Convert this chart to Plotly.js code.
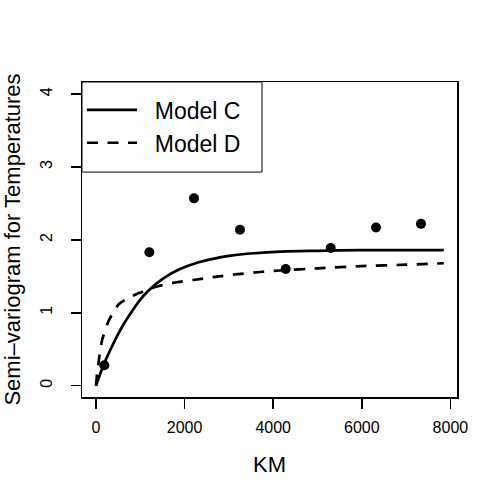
<!DOCTYPE html>
<html>
<head>
<meta charset="utf-8">
<script src="https://cdn.plot.ly/plotly-3.0.1.min.js"></script>
<style>html,body{margin:0;padding:0;background:#fff;}#chart{width:500px;height:500px;}</style>
</head>
<body>
<div id="chart"></div>
<script>
// Empirical semi-variogram points
var distKm = [188, 1204, 2212, 3250, 4282, 5298, 6321, 7336];
var semiVar = [0.28, 1.83, 2.57, 2.14, 1.60, 1.89, 2.17, 2.22];

// Model C (solid)
var modelCx = [0, 100, 203, 330, 467, 610, 767, 960, 1174, 1512, 1896, 2300, 2641, 3000, 3409, 4153, 5000, 6000, 7000, 7850];
var modelCy = [0, 0.17, 0.33, 0.50, 0.67, 0.83, 0.98, 1.15, 1.30, 1.47, 1.60, 1.69, 1.74, 1.78, 1.81, 1.84, 1.85, 1.86, 1.86, 1.86];

// Model D (dashed)
var modelDx = [0, 25, 60, 135, 293, 519, 750, 970, 1377, 1738, 2200, 2641, 3200, 3702, 4153, 5000, 6000, 7000, 7850];
var modelDy = [0, 0.16, 0.33, 0.62, 0.90, 1.12, 1.21, 1.27, 1.36, 1.41, 1.45, 1.49, 1.53, 1.56, 1.58, 1.61, 1.64, 1.66, 1.68];

var legendNames = ["Model C", "Model D"];
var xTicks = [0, 2000, 4000, 6000, 8000];
var yTicks = [0, 1, 2, 3, 4];

var traces = [
  {x: modelCx, y: modelCy, mode: "lines", name: "\u00a0\u00a0" + legendNames[0],
   line: {color: "#000", width: 2.7, shape: "spline", smoothing: 0.6}},
  {x: modelDx, y: modelDy, mode: "lines", name: "\u00a0\u00a0" + legendNames[1],
   line: {color: "#000", width: 2.7, dash: "11px,9.5px", shape: "spline", smoothing: 0.6}},
  {x: distKm, y: semiVar, mode: "markers", showlegend: false,
   marker: {color: "#000", size: 10}}
];

var font = "Liberation Sans, Arial, Helvetica, sans-serif";
var layout = {
  width: 500, height: 500,
  margin: {l: 82, r: 43, t: 82, b: 103},
  paper_bgcolor: "#fff", plot_bgcolor: "#fff",
  font: {family: font, color: "#000"},
  showlegend: true,
  legend: {x: 0.0, y: 0.859, xanchor: "left", yanchor: "middle",
    bgcolor: "rgba(0,0,0,0)", borderwidth: 0,
    font: {family: font, size: 23, color: "#000"}, itemwidth: 50, tracegroupgap: 0},
  shapes: [{type: "rect", xref: "paper", yref: "paper", x0: 0, x1: 0.48, y0: 0.714, y1: 1,
    line: {color: "#000", width: 1}, fillcolor: "rgba(0,0,0,0)"}],
  xaxis: {
    range: [-316, 8149], tickvals: xTicks, ticktext: xTicks.map(String),
    showgrid: false, zeroline: false, showline: true, mirror: true,
    linecolor: "#000", linewidth: 1.5, ticks: "outside", ticklen: 10, tickcolor: "#000", tickwidth: 1.5,
    ticklabelstandoff: 5,
    tickfont: {family: font, size: 16, color: "#000"},
    title: {text: "KM", font: {family: font, size: 22, color: "#000"}, standoff: 22}
  },
  yaxis: {
    range: [-0.155, 4.166], tickvals: yTicks, ticktext: yTicks.map(String),
    showgrid: false, zeroline: false, showline: true, mirror: true,
    linecolor: "#000", linewidth: 1.5, ticks: "outside", ticklen: 10, tickcolor: "#000", tickwidth: 1.5,
    tickangle: -90, ticklabelstandoff: 12,
    tickfont: {family: font, size: 16, color: "#000"},
    title: {text: "Semi–variogram for Temperatures", font: {family: font, size: 22, color: "#000"}, standoff: 16}
  }
};

Plotly.newPlot("chart", traces, layout, {displayModeBar: false, staticPlot: true});
</script>
</body>
</html>
